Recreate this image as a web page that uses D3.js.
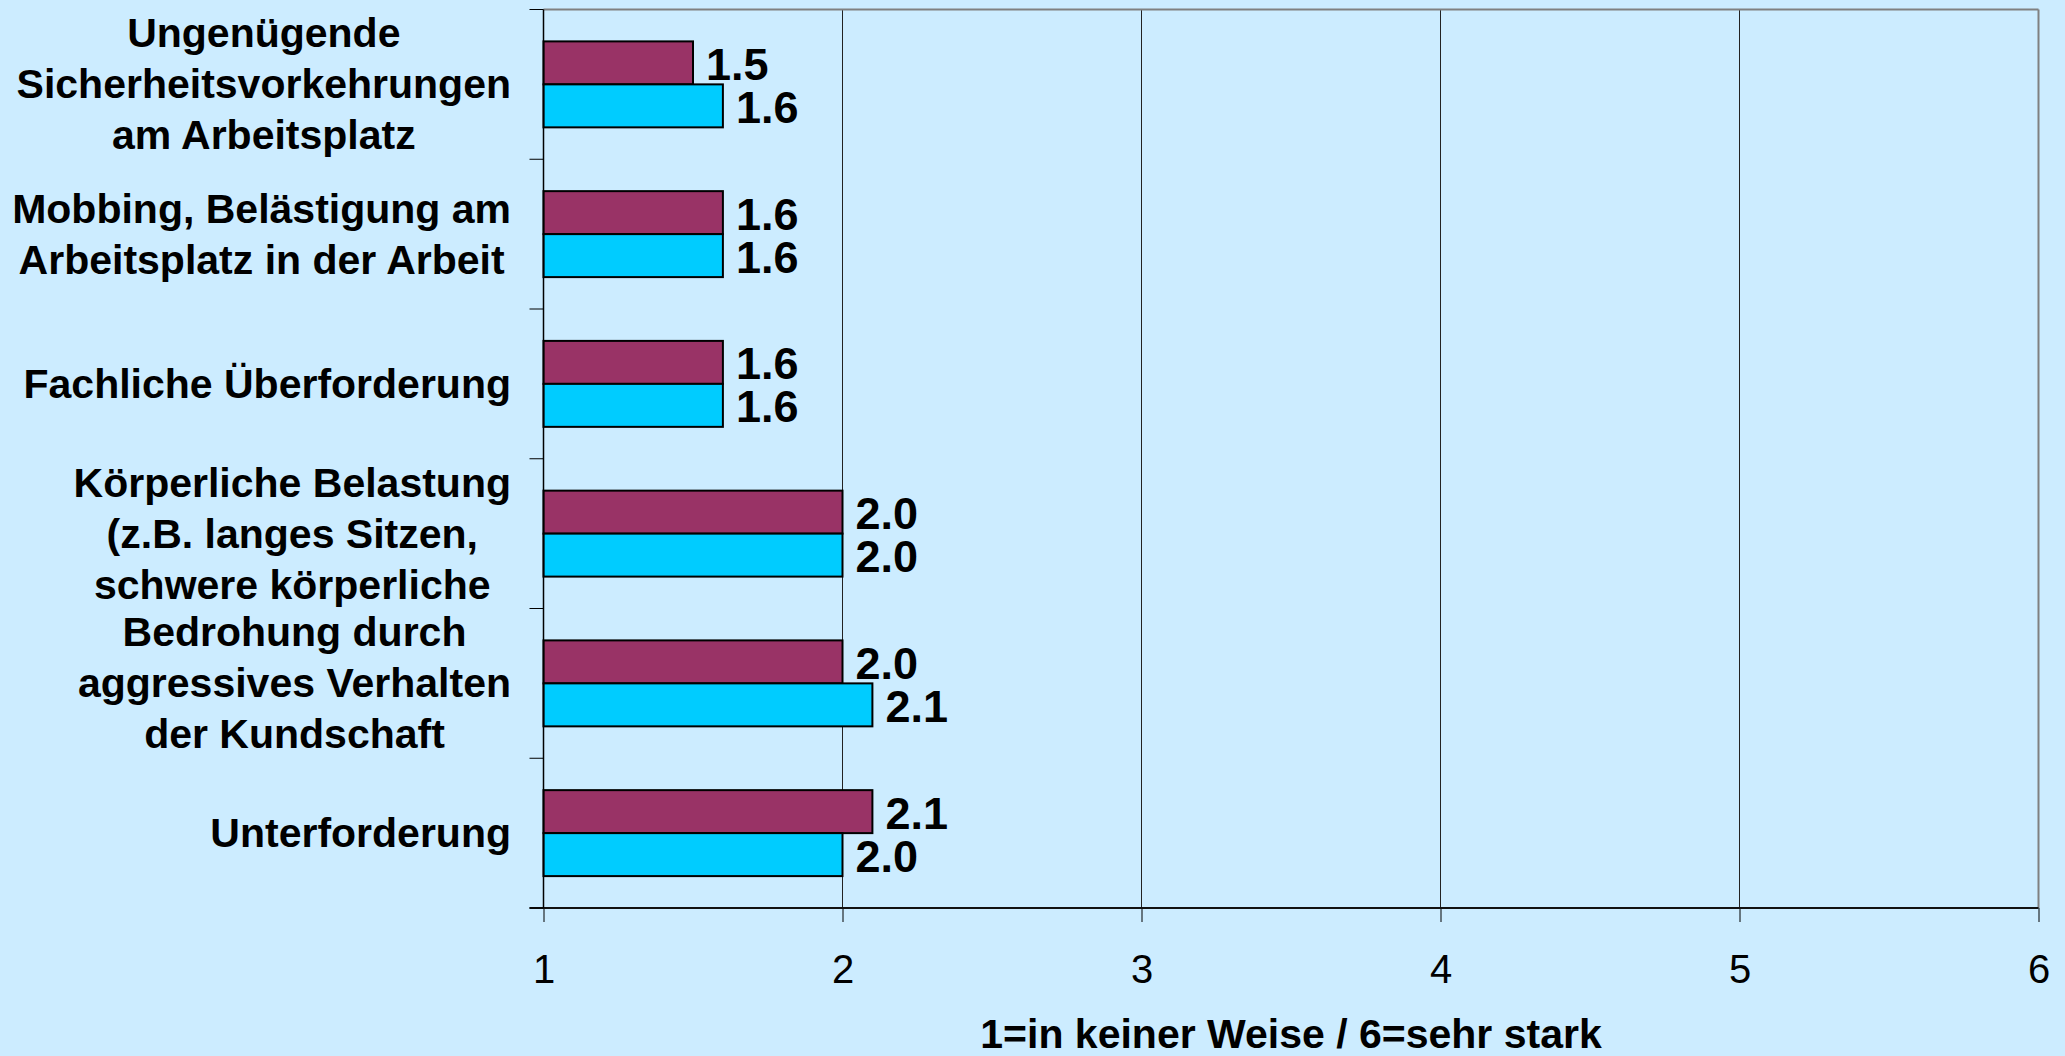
<!DOCTYPE html>
<html>
<head>
<meta charset="utf-8">
<script src="https://cdn.jsdelivr.net/npm/d3@7"></script>
<style>
  html, body { margin: 0; padding: 0; background: #CCECFF; }
  svg { display: block; }
  text { font-family: Arial, "Liberation Sans", sans-serif; fill: #000; }
</style>
</head>
<body>
<div id="chart"></div>
<script>
//data
var categories = [
  "Ungenügende Sicherheitsvorkehrungen am Arbeitsplatz",
  "Mobbing, Belästigung am Arbeitsplatz in der Arbeit",
  "Fachliche Überforderung",
  "Körperliche Belastung (z.B. langes Sitzen, schwere körperliche",
  "Bedrohung durch aggressives Verhalten der Kundschaft",
  "Unterforderung"
];

//how each category label is broken into lines
var categoryLines = [
  ["Ungenügende", "Sicherheitsvorkehrungen", "am Arbeitsplatz"],
  ["Mobbing, Belästigung am", "Arbeitsplatz in der Arbeit"],
  ["Fachliche Überforderung"],
  ["Körperliche Belastung", "(z.B. langes Sitzen,", "schwere körperliche"],
  ["Bedrohung durch", "aggressives Verhalten", "der Kundschaft"],
  ["Unterforderung"]
];

var seriesNames = ["Reihe 1", "Reihe 2"];
var seriesA = [1.5, 1.6, 1.6, 2.0, 2.0, 2.1];
var seriesB = [1.6, 1.6, 1.6, 2.0, 2.1, 2.0];
var seriesColors = ["#993366", "#00CCFF"];

var xTicks = [1, 2, 3, 4, 5, 6];
var xTitle = "1=in keiner Weise / 6=sehr stark";

//svg sizes
var svgWidth = 2065;
var svgHeight = 1056;

//plot area (left/top on half pixels so thin lines stay crisp)
var margin = { top: 9.5, right: 27, bottom: 148, left: 543.5 };
var width = 1495;
var height = svgHeight - margin.top - margin.bottom;

var svg = d3.select("#chart")
  .append("svg")
  .attr("width", svgWidth)
  .attr("height", svgHeight);

var chartGroup = svg.append("g")
  .attr("transform", `translate(${margin.left}, ${margin.top})`);

//scales
var xLinearScale = d3.scaleLinear()
  .domain([1, 6])
  .range([0, width]);

var yBandScale = d3.scaleBand()
  .domain(categories)
  .range([0, height])
  .padding(0);

var ySeriesScale = d3.scaleBand()
  .domain(seriesNames)
  .range([0, yBandScale.bandwidth()])
  .paddingInner(0)
  .paddingOuter(0.742);

//build rows from the arrays
var rows = categories.map(function(c, i) {
  return {
    category: c,
    values: [
      { series: seriesNames[0], value: seriesA[i], color: seriesColors[0] },
      { series: seriesNames[1], value: seriesB[i], color: seriesColors[1] }
    ]
  };
});

//vertical gridlines
chartGroup.selectAll(".grid")
  .data(xTicks.slice(1, -1))
  .enter()
  .append("line")
  .attr("x1", d => xLinearScale(d))
  .attr("x2", d => xLinearScale(d))
  .attr("y1", 0)
  .attr("y2", height)
  .attr("stroke", "#222")
  .attr("stroke-width", 1);

//top and right border of the plot area
chartGroup.append("line")
  .attr("x1", 0)
  .attr("x2", width)
  .attr("y1", 0)
  .attr("y2", 0)
  .attr("stroke", "#808080")
  .attr("stroke-width", 2);

chartGroup.append("line")
  .attr("x1", width)
  .attr("x2", width)
  .attr("y1", 0)
  .attr("y2", height)
  .attr("stroke", "#808080")
  .attr("stroke-width", 2);

//bars
var groups = chartGroup.selectAll(".cat")
  .data(rows)
  .enter()
  .append("g")
  .attr("transform", d => `translate(0, ${yBandScale(d.category)})`);

groups.selectAll("rect")
  .data(d => d.values)
  .enter()
  .append("rect")
  .attr("x", xLinearScale(1))
  .attr("y", d => ySeriesScale(d.series))
  .attr("width", d => xLinearScale(d.value) - xLinearScale(1))
  .attr("height", ySeriesScale.bandwidth())
  .attr("fill", d => d.color)
  .attr("stroke", "#000")
  .attr("stroke-width", 2);

//value labels
groups.selectAll(".val")
  .data(d => d.values)
  .enter()
  .append("text")
  .attr("x", d => xLinearScale(d.value) + 13)
  .attr("y", d => ySeriesScale(d.series) + ySeriesScale.bandwidth() / 2 + 17)
  .attr("font-size", "45px")
  .attr("font-weight", "bold")
  .text(d => d.value.toFixed(1));

//bottom axis
var bottomAxis = d3.axisBottom(xLinearScale)
  .tickValues(xTicks)
  .tickSize(14)
  .tickPadding(33)
  .tickFormat(d3.format("d"));

var xAxis = chartGroup.append("g")
  .attr("transform", `translate(0, ${height})`)
  .call(bottomAxis);

xAxis.select(".domain").remove();
xAxis.selectAll("line").attr("stroke", "#000").attr("stroke-width", 1);
xAxis.selectAll("text")
  .attr("font-size", "40px")
  .attr("font-family", "Arial, 'Liberation Sans', sans-serif")
  .attr("fill", "#000");

chartGroup.append("line")
  .attr("x1", -14)
  .attr("x2", width)
  .attr("y1", height)
  .attr("y2", height)
  .attr("stroke", "#111")
  .attr("stroke-width", 2);

//left axis: ticks at the category boundaries, no labels
var boundaries = categories.map(c => yBandScale(c)).concat([height]);

chartGroup.selectAll(".ytick")
  .data(boundaries)
  .enter()
  .append("line")
  .attr("x1", -14)
  .attr("x2", 0)
  .attr("y1", d => d)
  .attr("y2", d => d)
  .attr("stroke", "#000")
  .attr("stroke-width", 1);

chartGroup.append("line")
  .attr("x1", 0)
  .attr("x2", 0)
  .attr("y1", 0)
  .attr("y2", height)
  .attr("stroke", "#000")
  .attr("stroke-width", 1.5);

//category labels, lines centred within a block that is right aligned
var labelRight = 511 - margin.left;
var lineHeight = 51;

categoryLines.forEach(function(lines, i) {
  var g = chartGroup.append("g");
  var centre = yBandScale(categories[i]) + yBandScale.bandwidth() / 2;
  var texts = g.selectAll("text")
    .data(lines)
    .enter()
    .append("text")
    .attr("font-size", "41px")
    .attr("font-weight", "bold")
    .attr("text-anchor", "middle")
    .attr("y", (d, j) => centre + (j - (lines.length - 1) / 2) * lineHeight + 14)
    .text(d => d);

  var maxWidth = d3.max(texts.nodes(), n => n.getComputedTextLength());
  texts.attr("x", labelRight - maxWidth / 2);
});

//x axis title
chartGroup.append("text")
  .attr("x", width / 2)
  .attr("y", 1048 - margin.top)
  .attr("text-anchor", "middle")
  .attr("font-size", "41px")
  .attr("font-weight", "bold")
  .text(xTitle);
</script>
</body>
</html>
